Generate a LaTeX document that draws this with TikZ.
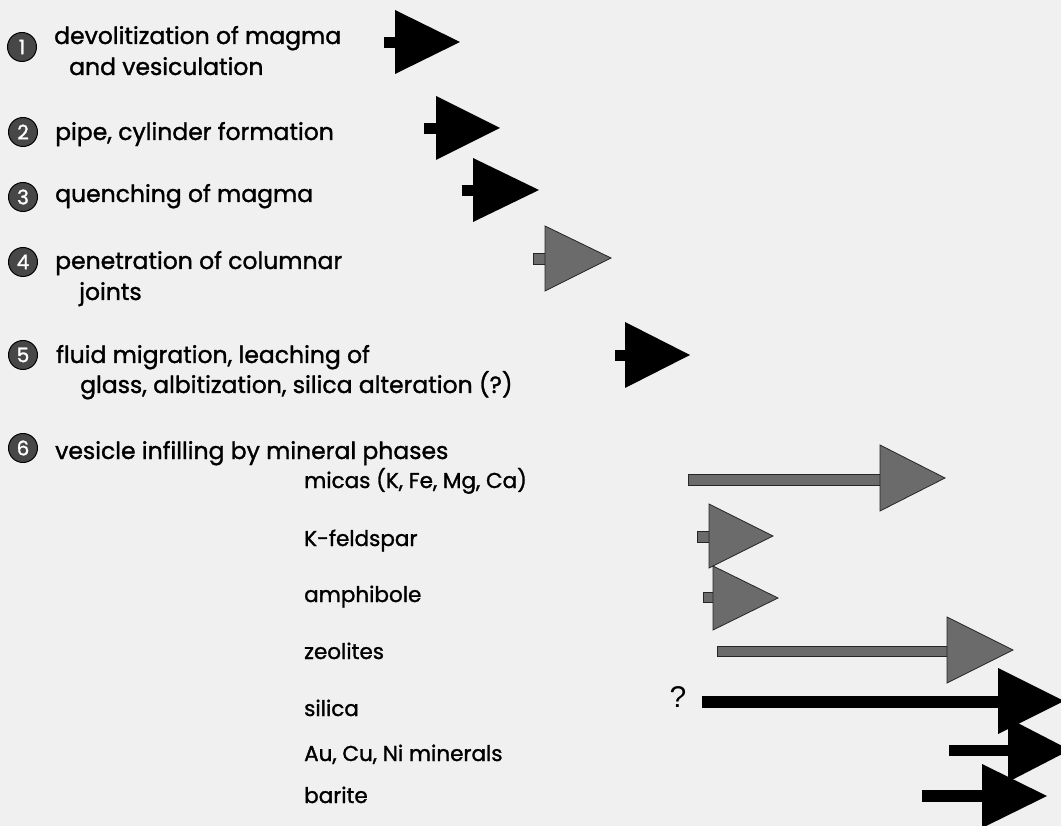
\documentclass[tikz,border=0pt]{standalone}
\usepackage{fontspec}
\setmainfont{Poppins}[FakeBold=1.3]
\newfontfamily\qfont{Liberation Sans}
\begin{document}
\begin{tikzpicture}[x=1pt,y=-1pt,
  stage/.style={anchor=base west,inner sep=0pt,font=\fontsize{23.5}{28}\selectfont},
  phase/.style={anchor=base west,inner sep=0pt,font=\fontsize{21.5}{26}\selectfont},
  num/.style={circle,fill=black!72,draw=black,line width=1pt,minimum size=29pt,inner sep=0pt,
    text=white,font=\fontsize{20}{20}\selectfont},
  blackbar/.style={fill=black},
  graybar/.style={fill=black!58,draw=black!85,line width=0.8pt}]
\fill[black!6] (0,0) rectangle (1061,826);
\useasboundingbox (0,0) rectangle (1061,826);
% stage numbers
\node[num] (n1) at (22,47) {1};
\node[num] (n2) at (23,132) {2};
\node[num] (n3) at (23,197) {3};
\node[num] (n4) at (23,262) {4};
\node[num] (n5) at (23,355) {5};
\node[num] (n6) at (23,448) {6};
% stage texts
\node[stage] (t1) at (54,44) {devolitization of magma};
\node[stage] (t1b) at (69,75) {and vesiculation};
\node[stage] (t2) at (55,140) {pipe, cylinder formation};
\node[stage] (t3) at (55,202) {quenching of magma};
\node[stage] (t4) at (55,269) {penetration of columnar};
\node[stage] (t4b) at (79,300) {joints};
\node[stage] (t5) at (56,363) {fluid migration, leaching of};
\node[stage] (t5b) at (80,393) {glass, albitization, silica alteration (?)};
\node[stage] (t6) at (55,459) {vesicle infilling by mineral phases};
% mineral phases
\node[phase] (m1) at (304,488) {micas (K, Fe, Mg, Ca)};
\node[phase] (m2) at (304,546) {K-feldspar};
\node[phase] (m3) at (304,602) {amphibole};
\node[phase] (m4) at (304,659) {zeolites};
\node[phase] (m5) at (304,716) {silica};
\node[phase] (m6) at (304,761) {Au, Cu, Ni minerals};
\node[phase] (m7) at (304,803) {barite};
\node[font=\qfont\fontsize{30}{30}\selectfont,inner sep=0pt] (q) at (678,697) {?};
% bars
\fill[blackbar] (384,37) rectangle (398,48);
\fill[blackbar] (395,10) -- (460,42) -- (395,74) -- cycle;
\fill[blackbar] (424,123) rectangle (438,134);
\fill[blackbar] (436,96) -- (500,128) -- (436,160) -- cycle;
\fill[blackbar] (462,185) rectangle (475,196);
\fill[blackbar] (473,158) -- (539,190) -- (473,222) -- cycle;
\filldraw[graybar] (533,253) rectangle (547,264);
\filldraw[graybar] (545,226) -- (611,258) -- (545,291) -- cycle;
\fill[blackbar] (615,350) rectangle (627,361);
\fill[blackbar] (625,322) -- (690,355) -- (625,388) -- cycle;
\filldraw[graybar] (688,474) rectangle (882,485);
\filldraw[graybar] (880,445) -- (945,478) -- (880,511) -- cycle;
\filldraw[graybar] (697,531) rectangle (711,542);
\filldraw[graybar] (709,504) -- (773,536) -- (709,568) -- cycle;
\filldraw[graybar] (703,592) rectangle (715,602);
\filldraw[graybar] (713,566) -- (778,598) -- (713,630) -- cycle;
\filldraw[graybar] (717,646) rectangle (949,656);
\filldraw[graybar] (947,617) -- (1013,650) -- (947,683) -- cycle;
\fill[blackbar] (702,696) rectangle (1000,708);
\fill[blackbar] (998,668) -- (1064,701) -- (998,734) -- cycle;
\fill[blackbar] (949,745) rectangle (1010,756);
\fill[blackbar] (1008,718) -- (1070,750) -- (1008,782) -- cycle;
\fill[blackbar] (922,790) rectangle (984,802);
\fill[blackbar] (982,764) -- (1047,796) -- (982,828) -- cycle;
\end{tikzpicture}
\end{document}
